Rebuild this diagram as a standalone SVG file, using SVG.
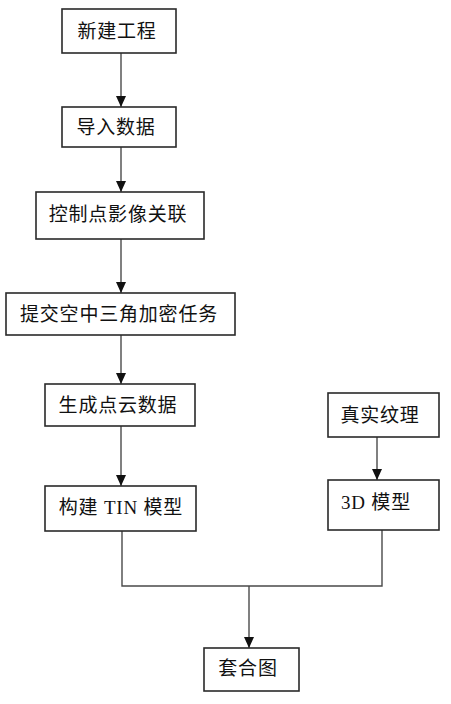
<svg xmlns="http://www.w3.org/2000/svg" width="451" height="704" viewBox="0 0 451 704">
<style>
.box{fill:#fff;stroke:#2a2a2a;stroke-width:1.6}
.t{font-family:"Liberation Serif","Noto Sans CJK SC",serif;font-size:19px;fill:#111;text-anchor:middle;dominant-baseline:central;letter-spacing:0.8px}
.ln{fill:none;stroke:#4a4a4a;stroke-width:1.4}
</style>
<defs>
<marker id="ah" viewBox="0 0 11 10" refX="11" refY="5" markerWidth="11" markerHeight="10" markerUnits="userSpaceOnUse" orient="auto">
<path d="M0,0 L11,5 L0,10 Z" fill="#111"/>
</marker>
</defs>
<rect width="451" height="704" fill="#fff"/>
<g id="connectors">
<line class="ln" x1="121" y1="53" x2="121" y2="107" marker-end="url(#ah)"/>
<line class="ln" x1="121" y1="147" x2="121" y2="192" marker-end="url(#ah)"/>
<line class="ln" x1="121" y1="239" x2="121" y2="293" marker-end="url(#ah)"/>
<line class="ln" x1="121" y1="335" x2="121" y2="384" marker-end="url(#ah)"/>
<line class="ln" x1="121" y1="426" x2="121" y2="486" marker-end="url(#ah)"/>
<line class="ln" x1="377" y1="437" x2="377" y2="480" marker-end="url(#ah)"/>
<polyline class="ln" points="122,531 122,586 382,586 382,530"/>
<line class="ln" x1="249" y1="586" x2="249" y2="648" marker-end="url(#ah)"/>
</g>
<g id="n1"><rect class="box" x="62" y="9" width="114" height="44"/><text class="t" x="117" y="31">新建工程</text></g>
<g id="n2"><rect class="box" x="62" y="107" width="114" height="40"/><text class="t" x="116" y="127">导入数据</text></g>
<g id="n3"><rect class="box" x="36" y="192" width="168" height="47"/><text class="t" x="118" y="214">控制点影像关联</text></g>
<g id="n4"><rect class="box" x="6" y="293" width="229" height="42"/><text class="t" x="119" y="314">提交空中三角加密任务</text></g>
<g id="n5"><rect class="box" x="45" y="384" width="150" height="42"/><text class="t" x="118" y="405">生成点云数据</text></g>
<g id="n6"><rect class="box" x="45" y="486" width="151" height="45"/><text class="t" x="121" y="507">构建 TIN 模型</text></g>
<g id="n7"><rect class="box" x="328" y="393" width="111" height="44"/><text class="t" x="380" y="415">真实纹理</text></g>
<g id="n8"><rect class="box" x="328" y="480" width="111" height="50"/><text class="t" x="376" y="502">3D 模型</text></g>
<g id="n9"><rect class="box" x="204" y="648" width="95" height="43"/><text class="t" x="248" y="668">套合图</text></g>
</svg>
